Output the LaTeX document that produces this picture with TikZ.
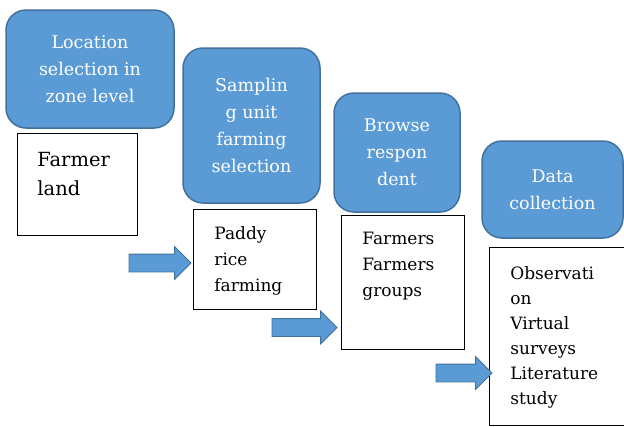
\documentclass[tikz,border=0pt]{standalone}
\usepackage{fontspec}
\setmainfont{DejaVu Serif}
\usepackage{tikz}
\usetikzlibrary{shapes.arrows}
\usepackage{xcolor}
\definecolor{stageblue}{HTML}{5B9BD5}
\definecolor{stageedge}{HTML}{41719C}
\tikzset{
  stage/.style={rectangle, rounded corners=20pt, fill=stageblue, draw=stageedge, line width=1.5pt, text=white, align=center, inner sep=0pt, font=\fontsize{17.5}{27}\selectfont},
  detail/.style={rectangle, draw=black, line width=0.8pt, fill=white, anchor=north west, inner sep=0pt, font=\fontsize{17}{26}\selectfont},
  flow/.style={single arrow, anchor=tail, fill=stageblue, draw=stageedge, line width=0.8pt, inner sep=8.5pt, single arrow head extend=7.5pt, outer sep=0pt}
}

\begin{document}
\begin{tikzpicture}[x=1pt, y=-1pt]
    \useasboundingbox (0,0) rectangle (624,426);
    % Draw the blue stage boxes
    \node[stage, minimum width=168, minimum height=118] (location) at (90,69) {Location\\selection in\\zone level};
    \node[stage, minimum width=137, minimum height=155] (sampling) at (251.5,125.5) {Samplin\\g unit\\farming\\selection};
    \node[stage, minimum width=126, minimum height=119] (browse) at (397,152.5) {Browse\\respon\\dent};
    \node[stage, minimum width=141, minimum height=97] (collect) at (552.5,189.5) {Data\\collection};

    % Draw the white boxes under each stage
    \node[detail, minimum width=120, minimum height=102, font=\fontsize{19.5}{29}\selectfont] (landbox) at (17,133)
        {\parbox[c][64pt][t]{80pt}{\raggedright Farmer\\land}};
    \node[detail, minimum width=123, minimum height=100] (paddybox) at (193,209)
        {\parbox[c][66pt][t]{81pt}{\raggedright Paddy\\rice\\farming}};
    \node[detail, minimum width=123, minimum height=134] (farmerbox) at (341,215)
        {\parbox[c][100pt][t]{81pt}{\raggedright Farmers\\Farmers\\groups}};
    \node[detail, minimum width=137, minimum height=178, font=\fontsize{17}{25}\selectfont] (methodbox) at (489,247)
        {\parbox[c][140pt][t]{95pt}{\raggedright Observati\\on\\Virtual\\surveys\\Literature\\study}};

    % Draw the block arrows between the steps
    \node[flow, minimum height=62] (toPaddy) at (129,263) {};
    \node[flow, minimum height=65] (toFarmer) at (272,327.5) {};
    \node[flow, minimum height=56] (toMethod) at (436,373) {};
\end{tikzpicture}
\end{document}
